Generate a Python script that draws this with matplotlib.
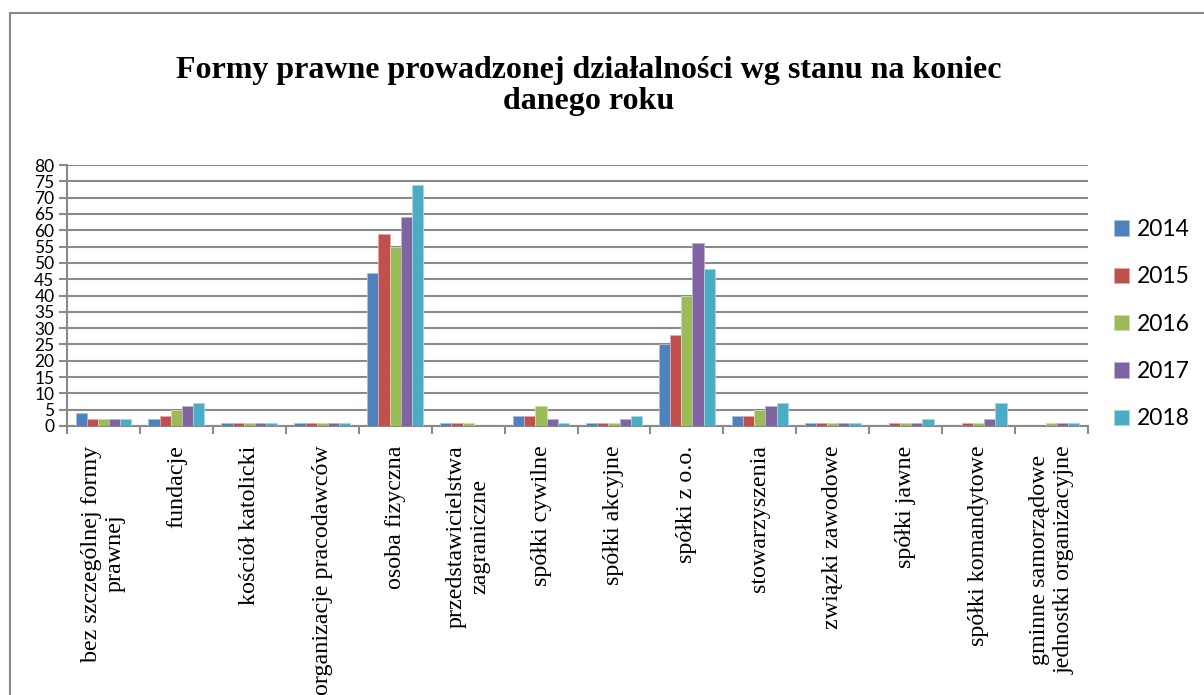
import matplotlib
matplotlib.use("Agg")
import matplotlib.pyplot as plt
import numpy as np
from matplotlib.lines import Line2D

categories = [
    "bez szczególnej formy\nprawnej", "fundacje", "kościół katolicki",
    "organizacje pracodawców", "osoba fizyczna", "przedstawicielstwa\nzagraniczne",
    "spółki cywilne", "spółki akcyjne", "spółki z o.o.", "stowarzyszenia",
    "związki zawodowe", "spółki jawne", "spółki komandytowe",
    "gminne samorządowe\njednostki organizacyjne",
]
years = ["2014", "2015", "2016", "2017", "2018"]
v2014 = [4, 2, 1, 1, 47, 1, 3, 1, 25, 3, 1, 0, 0, 0]
v2015 = [2, 3, 1, 1, 59, 1, 3, 1, 28, 3, 1, 1, 1, 0]
v2016 = [2, 5, 1, 1, 55, 1, 6, 1, 40, 5, 1, 1, 1, 1]
v2017 = [2, 6, 1, 1, 64, 0, 2, 2, 56, 6, 1, 1, 2, 1]
v2018 = [2, 7, 1, 1, 74, 0, 1, 3, 48, 7, 1, 2, 7, 1]
series = [v2014, v2015, v2016, v2017, v2018]
colors = ["#4F81BD", "#C0504D", "#9BBB59", "#8064A2", "#4BACC6"]
edges = ["#a7c0de", "#e0a8a6", "#cddcac", "#bfb1d0", "#a5d5e2"]
yticks = list(range(0, 85, 5))
title = "Formy prawne prowadzonej działalności wg stanu na koniec\ndanego roku"

fig = plt.figure(figsize=(12.04, 6.95), dpi=100)
ax = fig.add_axes([67 / 1204, 1 - 426 / 695, 1021 / 1204, 261 / 695])

n = len(categories)
x = np.arange(n)
bw = 0.153
for i, (vals, c, ec, lab) in enumerate(zip(series, colors, edges, years)):
    ax.bar(x + (i - 2) * bw, vals, width=bw, color=c, edgecolor=ec,
           linewidth=0.6, label=lab, zorder=3)

ax.set_xlim(-0.5, n - 0.5)
ax.set_ylim(0, 80)
ax.set_yticks(yticks)
ax.set_yticklabels([str(t) for t in yticks], fontfamily="Lato", fontsize=12.5)
ax.yaxis.grid(True, color="#8a8a8a", linewidth=1.5, zorder=0)
ax.set_axisbelow(True)

ax.set_xticks(np.arange(-0.5, n, 1.0))
ax.set_xticklabels([])
ax.set_xticks(x, minor=True)
ax.set_xticklabels(categories, minor=True, rotation=90, ha="center", va="top",
                   multialignment="center", fontfamily="Liberation Serif",
                   fontsize=17.3)
ax.tick_params(axis="x", which="minor", length=0, pad=14)
ax.tick_params(axis="x", which="major", length=6, width=1.5, color="#8a8a8a")
ax.tick_params(axis="y", length=6, width=1.5, color="#8a8a8a", pad=3)

for s in ["top", "right"]:
    ax.spines[s].set_visible(False)
for s in ["left", "bottom"]:
    ax.spines[s].set_color("#8a8a8a")
    ax.spines[s].set_linewidth(1.5)

leg = fig.legend(loc="upper left", bbox_to_anchor=(1114 / 1204, 1 - 219 / 695),
                 frameon=False, prop={"family": "Lato", "size": 16.5},
                 handlelength=0.66, handleheight=0.66, handletextpad=0.33,
                 labelspacing=1.15, borderaxespad=0, borderpad=0)

fig.text(589 / 1204, 1 - 86 / 695, title, ha="center", va="center",
         fontfamily="Liberation Serif", fontweight="bold", fontsize=23,
         linespacing=1.05)

fig.add_artist(Line2D([10 / 1204, 1], [1 - 13 / 695, 1 - 13 / 695],
                      transform=fig.transFigure, color="#8a8a8a", linewidth=1.5))
fig.add_artist(Line2D([10 / 1204, 10 / 1204], [0, 1 - 13 / 695],
                      transform=fig.transFigure, color="#8a8a8a", linewidth=1.5))

fig.savefig("out.png", dpi=100)
